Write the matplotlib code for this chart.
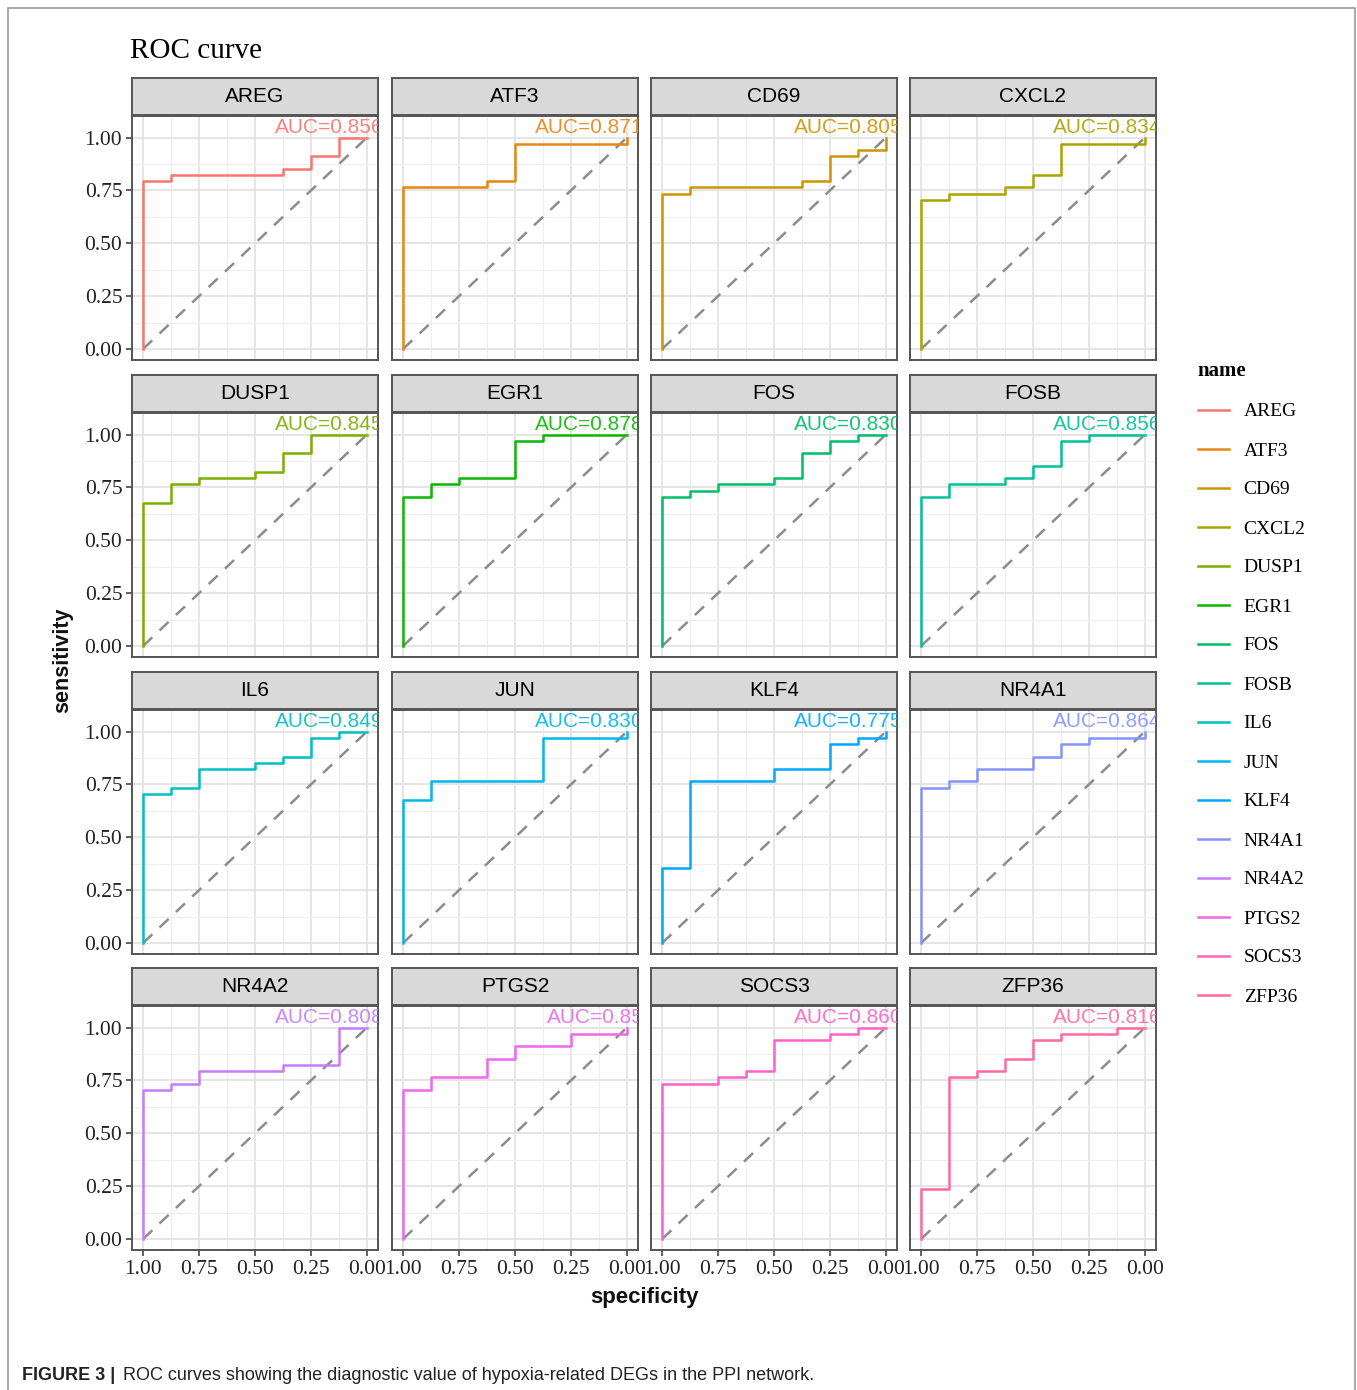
import numpy as np
import matplotlib
matplotlib.use("Agg")
import matplotlib.pyplot as plt
from matplotlib.lines import Line2D
from matplotlib.patches import Rectangle

# ---------------- data ----------------
genes = ["AREG", "ATF3", "CD69", "CXCL2", "DUSP1", "EGR1", "FOS", "FOSB",
         "IL6", "JUN", "KLF4", "NR4A1", "NR4A2", "PTGS2", "SOCS3", "ZFP36"]
auc_labels = ["0.856", "0.871", "0.805", "0.834", "0.845", "0.878", "0.830", "0.856",
              "0.849", "0.830", "0.775", "0.864", "0.808", "0.85", "0.860", "0.816"]

spec_AREG = [1, 1, 0.875, 0.375, 0.25, 0.125, 0]
sens_AREG = [0, 0.794, 0.824, 0.853, 0.912, 1.0, 1.0]
spec_ATF3 = [1, 1, 0.625, 0.5, 0, 0]
sens_ATF3 = [0, 0.765, 0.794, 0.971, 0.971, 1.0]
spec_CD69 = [1, 1, 0.875, 0.375, 0.25, 0.125, 0, 0]
sens_CD69 = [0, 0.735, 0.765, 0.794, 0.912, 0.941, 0.941, 1.0]
spec_CXCL2 = [1, 1, 0.875, 0.625, 0.5, 0.375, 0, 0]
sens_CXCL2 = [0, 0.706, 0.735, 0.765, 0.824, 0.971, 0.971, 1.0]
spec_DUSP1 = [1, 1, 0.875, 0.75, 0.5, 0.375, 0.25, 0]
sens_DUSP1 = [0, 0.676, 0.765, 0.794, 0.824, 0.912, 1.0, 1.0]
spec_EGR1 = [1, 1, 0.875, 0.75, 0.5, 0.375, 0]
sens_EGR1 = [0, 0.706, 0.765, 0.794, 0.971, 1.0, 1.0]
spec_FOS = [1, 1, 0.875, 0.75, 0.5, 0.375, 0.25, 0.125, 0]
sens_FOS = [0, 0.706, 0.735, 0.765, 0.794, 0.912, 0.971, 1.0, 1.0]
spec_FOSB = [1, 1, 0.875, 0.625, 0.5, 0.375, 0.25, 0]
sens_FOSB = [0, 0.706, 0.765, 0.794, 0.853, 0.971, 1.0, 1.0]
spec_IL6 = [1, 1, 0.875, 0.75, 0.5, 0.375, 0.25, 0.125, 0]
sens_IL6 = [0, 0.706, 0.735, 0.824, 0.853, 0.882, 0.971, 1.0, 1.0]
spec_JUN = [1, 1, 0.875, 0.375, 0, 0]
sens_JUN = [0, 0.676, 0.765, 0.971, 0.971, 1.0]
spec_KLF4 = [1, 1, 0.875, 0.5, 0.25, 0.125, 0, 0]
sens_KLF4 = [0, 0.353, 0.765, 0.824, 0.941, 0.971, 0.971, 1.0]
spec_NR4A1 = [1, 1, 0.875, 0.75, 0.5, 0.375, 0.25, 0, 0]
sens_NR4A1 = [0, 0.735, 0.765, 0.824, 0.882, 0.941, 0.971, 0.971, 1.0]
spec_NR4A2 = [1, 1, 0.875, 0.75, 0.375, 0.125, 0]
sens_NR4A2 = [0, 0.706, 0.735, 0.794, 0.824, 1.0, 1.0]
spec_PTGS2 = [1, 1, 0.875, 0.625, 0.5, 0.25, 0, 0]
sens_PTGS2 = [0, 0.706, 0.765, 0.853, 0.912, 0.971, 0.971, 1.0]
spec_SOCS3 = [1, 1, 0.75, 0.625, 0.5, 0.25, 0.125, 0]
sens_SOCS3 = [0, 0.735, 0.765, 0.794, 0.941, 0.971, 1.0, 1.0]
spec_ZFP36 = [1, 1, 0.875, 0.75, 0.625, 0.5, 0.375, 0.125, 0]
sens_ZFP36 = [0, 0.235, 0.765, 0.794, 0.853, 0.941, 0.971, 1.0, 1.0]

curves = {
    "AREG": (spec_AREG, sens_AREG), "ATF3": (spec_ATF3, sens_ATF3),
    "CD69": (spec_CD69, sens_CD69), "CXCL2": (spec_CXCL2, sens_CXCL2),
    "DUSP1": (spec_DUSP1, sens_DUSP1), "EGR1": (spec_EGR1, sens_EGR1),
    "FOS": (spec_FOS, sens_FOS), "FOSB": (spec_FOSB, sens_FOSB),
    "IL6": (spec_IL6, sens_IL6), "JUN": (spec_JUN, sens_JUN),
    "KLF4": (spec_KLF4, sens_KLF4), "NR4A1": (spec_NR4A1, sens_NR4A1),
    "NR4A2": (spec_NR4A2, sens_NR4A2), "PTGS2": (spec_PTGS2, sens_PTGS2),
    "SOCS3": (spec_SOCS3, sens_SOCS3), "ZFP36": (spec_ZFP36, sens_ZFP36),
}
ticks = [1.00, 0.75, 0.50, 0.25, 0.00]
tick_labels = ["1.00", "0.75", "0.50", "0.25", "0.00"]


# ---------------- ggplot hue palette ----------------
def hue_pal(n, c=100.0, l=65.0):
    hues = np.linspace(15, 375, n + 1)[:-1]
    Xn, Yn, Zn = 95.047, 100.0, 108.883
    un = 4 * Xn / (Xn + 15 * Yn + 3 * Zn)
    vn = 9 * Yn / (Xn + 15 * Yn + 3 * Zn)
    out = []
    for h in hues:
        u = c * np.cos(np.radians(h))
        v = c * np.sin(np.radians(h))
        Y = Yn * ((l + 16) / 116) ** 3
        up = u / (13 * l) + un
        vp = v / (13 * l) + vn
        X = Y * 9 * up / (4 * vp)
        Z = Y * (12 - 3 * up - 20 * vp) / (4 * vp)
        X, Y2, Z = X / 100, Y / 100, Z / 100
        r = 3.2404542 * X - 1.5371385 * Y2 - 0.4985314 * Z
        g = -0.9692660 * X + 1.8760108 * Y2 + 0.0415560 * Z
        b = 0.0556434 * X - 0.2040259 * Y2 + 1.0572252 * Z
        rgb = []
        for ch in (r, g, b):
            ch = 12.92 * ch if ch <= 0.0031308 else 1.055 * ch ** (1 / 2.4) - 0.055
            rgb.append(min(max(ch, 0), 1))
        out.append(tuple(rgb))
    return out


colors = hue_pal(len(genes))

SERIF = "Liberation Serif"
SANS = "Liberation Sans"

W, H = 1357, 1390
fig = plt.figure(figsize=(W / 100, H / 100), dpi=100)
fig.patch.set_facecolor("white")


def fx(px):
    return px / W


def fy(py):
    return 1 - py / H


# outer frame
fig.add_artist(Rectangle((fx(8), -0.01), fx(1355) - fx(8), fy(8) + 0.01,
                         transform=fig.transFigure, fill=False,
                         edgecolor="#9a9a9a", lw=1.2))

col_left = [132, 392, 651, 910]
row_top = [116, 413, 710, 1006]
pw, ph = 246, 244
strip_h = 37

for i, g in enumerate(genes):
    r, c = divmod(i, 4)
    ax = fig.add_axes([fx(col_left[c]), fy(row_top[r] + ph), pw / W, ph / H])
    ax.set_xlim(1.05, -0.05)
    ax.set_ylim(-0.0525, 1.1025)
    ax.set_xticks(ticks)
    ax.set_yticks(ticks)
    ax.set_xticks([0.875, 0.625, 0.375, 0.125], minor=True)
    ax.set_yticks([0.875, 0.625, 0.375, 0.125], minor=True)
    ax.grid(which="major", color="#E3E3E3", lw=1.3)
    ax.grid(which="minor", color="#EEEEEE", lw=0.8)
    ax.set_axisbelow(True)
    for sp in ax.spines.values():
        sp.set_color("#555555")
        sp.set_linewidth(1.4)
    ax.tick_params(which="minor", length=0)
    ax.tick_params(which="major", length=4, width=1.1, color="#333333", pad=3)

    # diagonal reference
    ax.plot([1, 0], [0, 1], color="#8c8c8c", lw=1.8, dashes=(5, 4))
    sx, sy = curves[g]
    ax.plot(sx, sy, drawstyle="steps-post", color=colors[i], lw=1.8)
    ax.text(-0.075, 1.05, "AUC=" + auc_labels[i], color=colors[i], alpha=0.9,
            ha="right", va="center", fontsize=15, family=SANS, clip_on=True)

    if c == 0:
        ax.set_yticklabels(tick_labels, family=SERIF, fontsize=15.5, color="#222222")
    else:
        ax.tick_params(axis="y", left=False, labelleft=False)
    if r == 3:
        ax.set_xticklabels(tick_labels, family=SERIF, fontsize=15.5, color="#222222")
    else:
        ax.tick_params(axis="x", bottom=False, labelbottom=False)

    sax = fig.add_axes([fx(col_left[c]), fy(row_top[r] - 1), pw / W, strip_h / H])
    sax.set_facecolor("#D9D9D9")
    sax.set_xticks([])
    sax.set_yticks([])
    for sp in sax.spines.values():
        sp.set_color("#555555")
        sp.set_linewidth(1.4)
    sax.text(0.5, 0.5, g, ha="center", va="center", fontsize=15,
             family=SANS, color="#000000", transform=sax.transAxes)

# titles and axis labels
fig.text(fx(130), fy(51), "ROC curve", family=SERIF, fontsize=21,
         ha="left", va="center", color="#000000")
fig.text(fx(644), fy(1297), "specificity", family=SANS, fontweight="bold",
         fontsize=16, ha="center", va="center", color="#111111")
fig.text(fx(63), fy(660), "sensitivity", family=SANS, fontweight="bold",
         fontsize=15.5, ha="center", va="center", rotation=90, color="#111111")

# legend
handles = [Line2D([0], [0], color=colors[i], lw=1.8) for i in range(len(genes))]
leg = fig.legend(handles, genes, loc="upper left",
                 bbox_to_anchor=(fx(1180), fy(344)), frameon=False,
                 title="name", prop={"family": SERIF, "size": 14},
                 handlelength=1.6, handletextpad=0.77, labelspacing=1.1,
                 alignment="left")
leg.get_title().set_fontfamily(SERIF)
leg.get_title().set_fontsize(15)
leg.get_title().set_fontweight("bold")

# caption
fig.text(fx(22), fy(1375), "FIGURE 3 |", family=SANS, fontweight="bold",
         fontsize=13, ha="left", va="center", color="#222222")
fig.text(fx(123), fy(1375), "ROC curves showing the diagnostic value of hypoxia-related DEGs in the PPI network.",
         family=SANS, fontsize=13, ha="left", va="center", color="#222222")

fig.savefig("out.png", dpi=100, facecolor="white")
